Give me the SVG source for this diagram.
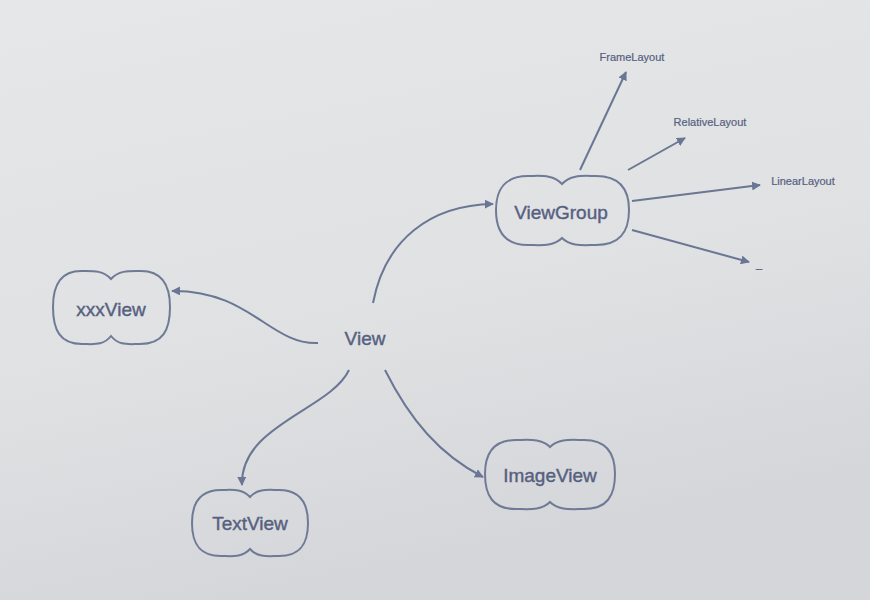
<svg xmlns="http://www.w3.org/2000/svg" width="870" height="600" viewBox="0 0 870 600">
<defs>
<linearGradient id="bg" x1="0" y1="0" x2="0.3" y2="1">
<stop offset="0" stop-color="#e6e7e9"/>
<stop offset="0.6" stop-color="#e0e1e3"/>
<stop offset="1" stop-color="#d5d6d9"/>
</linearGradient>
<marker id="ah" viewBox="0 0 10 10" refX="9" refY="5" markerWidth="9" markerHeight="9" markerUnits="userSpaceOnUse" orient="auto">
<path d="M0,0 L10,5 L0,10 Z" fill="#6a7694"/>
</marker>
<style>
.node{fill:none;stroke:#6f7a96;stroke-width:2}
.lbl{font-family:"Liberation Sans",Arial,sans-serif;fill:#56607f;text-anchor:middle;stroke:#56607f;stroke-width:0.4}
.big{font-size:19px}
.small{font-size:11px;stroke-width:0.2}
.edge{fill:none;stroke:#6a7694;stroke-width:2;marker-end:url(#ah)}
</style>
</defs>
<rect width="870" height="600" fill="url(#bg)"/>
<g id="connectors">
<path class="edge" d="M373,303 C385,240 430,205 493,204"/>
<path class="edge" d="M318,343 C270,345 250,290 172,291"/>
<path class="edge" d="M349,370 C330,410 240,425 242,485"/>
<path class="edge" d="M385,370 C410,420 440,455 483,477"/>
<path class="edge" d="M580,170 L626,72"/>
<path class="edge" d="M628,170 L685,138"/>
<path class="edge" d="M632,201 L760,185"/>
<path class="edge" d="M632,230 L749,262"/>
</g>
<g id="view">
<text class="lbl big" x="365" y="345">View</text>
</g>
<g id="viewgroup">
<path class="node" d="M562,184 C553,174 540,176 528,176 C505,176 496,190 496,210 C496,232 505,245 528,245 C540,245 553,247 562,238 C571,247 584,245 596,245 C620,245 629,232 629,210 C629,190 620,176 596,176 C584,176 571,174 562,184 Z"/>
<text class="lbl big" x="561" y="219">ViewGroup</text>
</g>
<g id="xxxview">
<path class="node" d="M111,279 C103,270 92,271 81,271 C59,271 53,287 53,307 C53,330 60,344 82,344 C94,344 103,346 111,336 C119,346 128,344 140,344 C163,344 170,330 170,307 C170,287 163,271 141,271 C130,271 119,270 111,279 Z"/>
<text class="lbl big" x="111" y="316">xxxView</text>
</g>
<g id="textview">
<path class="node" d="M250,497 C242,488 231,490 221,490 C199,490 192,504 192,523 C192,543 199,556 221,556 C231,556 242,558 250,549 C258,558 269,556 279,556 C301,556 308,543 308,523 C308,504 301,490 279,490 C269,490 258,488 250,497 Z"/>
<text class="lbl big" x="250" y="530">TextView</text>
</g>
<g id="imageview">
<path class="node" d="M550,447 C541,438 528,440 516,440 C493,440 485,454 485,474 C485,496 493,509 516,509 C528,509 541,511 550,502 C559,511 572,509 584,509 C607,509 615,496 615,474 C615,454 607,440 584,440 C572,440 559,438 550,447 Z"/>
<text class="lbl big" x="550" y="482">ImageView</text>
</g>
<g id="framelayout"><text class="lbl small" x="632" y="61">FrameLayout</text></g>
<g id="relativelayout"><text class="lbl small" x="710" y="126">RelativeLayout</text></g>
<g id="linearlayout"><text class="lbl small" x="803" y="185">LinearLayout</text></g>
<g id="more"><text class="lbl small" x="759" y="268">_</text></g>
</svg>
